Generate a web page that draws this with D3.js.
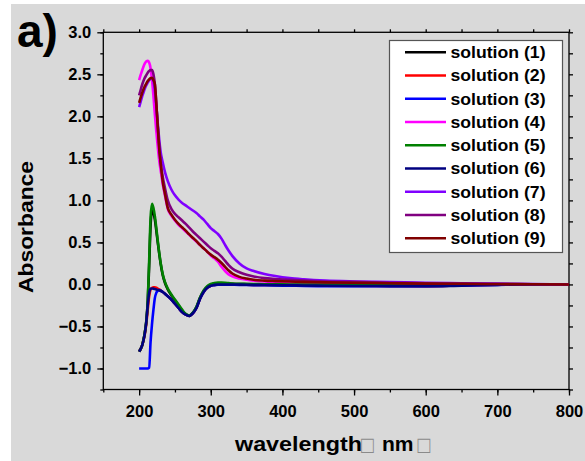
<!DOCTYPE html>
<html><head><meta charset="utf-8">
<script src="https://cdn.jsdelivr.net/npm/d3@7/dist/d3.min.js"></script>
<style>
html,body{margin:0;padding:0;background:#fff;}
svg{display:block;}
text{font-family:Arial,"Liberation Sans",sans-serif;font-weight:bold;}
</style></head>
<body>
<svg id="chart" width="585" height="461"></svg>
<script>
// ---- data ----
const wavelength = [200,202,204,206,208,210,212,214,216,218,220,222,224,226,228,230,233,236,240,245,250,255,260,265,270,275,280,285,290,295,300,305,310,315,320,325,330,340,350,360,375,390,410,430,460,500,550,600,650,700,750,800];

const solution1 = [-0.80,-0.77,-0.73,-0.66,-0.57,-0.44,-0.21,0.22,0.70,0.89,0.85,0.77,0.64,0.50,0.37,0.25,0.11,0.02,-0.06,-0.13,-0.19,-0.25,-0.31,-0.355,-0.375,-0.34,-0.27,-0.16,-0.08,-0.03,-0.005,0.01,0.015,0.015,0.012,0.01,0.008,0.005,0.004,0.003,0.002,0,0,0,0,-0.003,-0.005,-0.005,-0.003,0,0,0];
const solution2 = [-0.80,-0.77,-0.73,-0.67,-0.59,-0.47,-0.30,-0.14,-0.06,-0.04,-0.035,-0.035,-0.04,-0.05,-0.06,-0.07,-0.09,-0.11,-0.14,-0.18,-0.23,-0.28,-0.33,-0.36,-0.375,-0.345,-0.28,-0.17,-0.09,-0.04,-0.015,-0.005,0,0,0,0,0,-0.002,-0.004,-0.005,-0.005,-0.006,-0.008,-0.01,-0.012,-0.015,-0.018,-0.02,-0.012,-0.004,0,0];
const solution3 = [-1.00,-1.00,-1.00,-1.00,-1.00,-1.00,-1.00,-0.99,-0.68,-0.47,-0.30,-0.16,-0.10,-0.075,-0.068,-0.075,-0.09,-0.11,-0.14,-0.18,-0.23,-0.28,-0.33,-0.36,-0.375,-0.345,-0.28,-0.17,-0.09,-0.04,-0.015,-0.008,-0.004,-0.003,-0.003,-0.003,-0.004,-0.005,-0.006,-0.008,-0.01,-0.012,-0.015,-0.018,-0.02,-0.02,-0.02,-0.02,-0.012,-0.005,0,0];
const solution4 = [2.43,2.49,2.54,2.59,2.63,2.655,2.66,2.64,2.57,2.43,2.24,2.02,1.82,1.64,1.48,1.36,1.19,1.06,0.90,0.82,0.76,0.71,0.67,0.63,0.59,0.55,0.51,0.47,0.43,0.39,0.345,0.31,0.27,0.21,0.16,0.12,0.095,0.07,0.055,0.045,0.035,0.03,0.025,0.02,0.015,0.01,0.008,0.005,0.003,0.002,0.001,0];
const solution5 = [-0.80,-0.77,-0.73,-0.66,-0.57,-0.44,-0.20,0.28,0.80,0.96,0.91,0.81,0.67,0.52,0.38,0.26,0.12,0.03,-0.05,-0.12,-0.18,-0.24,-0.30,-0.35,-0.37,-0.335,-0.265,-0.155,-0.07,-0.02,0.005,0.018,0.022,0.022,0.02,0.016,0.012,0.008,0.006,0.004,0.003,0.002,0,0,0,-0.002,-0.004,-0.005,-0.003,0,0,0];
const solution6 = [-0.80,-0.77,-0.73,-0.67,-0.58,-0.45,-0.25,-0.10,-0.05,-0.048,-0.05,-0.055,-0.06,-0.065,-0.068,-0.075,-0.09,-0.11,-0.14,-0.18,-0.23,-0.28,-0.33,-0.36,-0.375,-0.34,-0.28,-0.17,-0.09,-0.04,-0.015,-0.005,0,0,0,0,0,-0.002,-0.004,-0.005,-0.006,-0.008,-0.01,-0.012,-0.015,-0.018,-0.02,-0.022,-0.014,-0.005,0,0];
const solution7 = [2.11,2.17,2.23,2.28,2.33,2.37,2.40,2.43,2.445,2.45,2.42,2.30,2.12,1.92,1.73,1.58,1.45,1.34,1.23,1.13,1.06,1.01,0.97,0.94,0.91,0.88,0.85,0.81,0.77,0.72,0.67,0.635,0.60,0.545,0.47,0.40,0.34,0.25,0.19,0.16,0.125,0.10,0.075,0.06,0.045,0.035,0.028,0.02,0.015,0.01,0.005,0];
const solution8 = [2.25,2.31,2.37,2.42,2.46,2.49,2.52,2.54,2.55,2.55,2.50,2.38,2.15,1.88,1.65,1.45,1.28,1.15,1.00,0.90,0.84,0.80,0.76,0.72,0.675,0.63,0.59,0.55,0.51,0.47,0.43,0.40,0.37,0.33,0.28,0.23,0.19,0.145,0.115,0.095,0.075,0.065,0.055,0.045,0.035,0.03,0.02,0.015,0.01,0.005,0.003,0];
const solution9 = [2.16,2.22,2.27,2.32,2.36,2.39,2.42,2.44,2.455,2.46,2.43,2.38,2.15,1.88,1.62,1.45,1.22,1.08,0.91,0.83,0.77,0.72,0.68,0.64,0.595,0.555,0.515,0.47,0.43,0.39,0.355,0.325,0.295,0.255,0.21,0.165,0.13,0.09,0.07,0.055,0.045,0.04,0.035,0.03,0.025,0.02,0.015,0.01,0.008,0.005,0.002,0];

const seriesNames = ["solution (1)","solution (2)","solution (3)","solution (4)","solution (5)","solution (6)","solution (7)","solution (8)","solution (9)"];
const seriesColors = ["#000000","#ff0000","#0000ff","#ff00ff","#008000","#000080","#8000ff","#800080","#800000"];
const seriesValues = [solution1,solution2,solution3,solution4,solution5,solution6,solution7,solution8,solution9];

const xTicks = [200,300,400,500,600,700,800];
const yTicks = [-1.0,-0.5,0.0,0.5,1.0,1.5,2.0,2.5,3.0];
const xLabel = "wavelength";
const xUnit = "nm";
const yLabel = "Absorbance";
const panelLabel = "a)";

// ---- layout ----
const svg = d3.select("#chart");
const L = 103.3, R = 569, T = 32.3, B = 389.5;

svg.append("rect").attr("x",11).attr("y",4).attr("width",574).attr("height",457).attr("fill","#d9d9d9");

const x = d3.scaleLinear().domain([150,800]).range([L,R]);
const y = d3.scaleLinear().domain([-1.25,3.0]).range([B,T]);

// frame
svg.append("rect").attr("x",L).attr("y",T).attr("width",R-L).attr("height",B-T)
  .attr("fill","none").attr("stroke","#000").attr("stroke-width",1.3);

const minorX = d3.range(150,801,50);
const minorY = d3.range(-1.25,3.001,0.25);

function styleAxis(g){
  g.select(".domain").remove();
  g.selectAll("line").attr("stroke","#000").attr("stroke-width",1.3);
  g.selectAll("text").attr("fill","#000");
}
// bottom
svg.append("g").attr("transform",`translate(0,${B})`)
  .call(d3.axisBottom(x).tickValues(minorX).tickSize(3).tickFormat(""))
  .call(styleAxis);
svg.append("g").attr("transform",`translate(0,${B})`)
  .call(d3.axisBottom(x).tickValues(xTicks).tickSize(6).tickPadding(10).tickFormat(d3.format("d")))
  .call(styleAxis)
  .selectAll("text").style("font-size","16.5px");
// left
svg.append("g").attr("transform",`translate(${L},0)`)
  .call(d3.axisLeft(y).tickValues(minorY).tickSize(3).tickFormat(""))
  .call(styleAxis);
svg.append("g").attr("transform",`translate(${L},0)`)
  .call(d3.axisLeft(y).tickValues(yTicks).tickSize(6).tickPadding(6).tickFormat(d3.format(".1f")))
  .call(styleAxis)
  .selectAll("text").style("font-size","16.5px");
// top
svg.append("g").attr("transform",`translate(0,${T})`)
  .call(d3.axisTop(x).tickValues(minorX).tickSize(3).tickFormat(""))
  .call(styleAxis);
// right
svg.append("g").attr("transform",`translate(${R},0)`)
  .call(d3.axisRight(y).tickValues(minorY).tickSize(4).tickFormat(""))
  .call(styleAxis);

// lines
svg.append("clipPath").attr("id","clip").append("rect")
  .attr("x",L).attr("y",T).attr("width",R-L).attr("height",B-T);
const line = d3.line().x((d,i)=>x(wavelength[i])).y(d=>y(d)).curve(d3.curveMonotoneX);
const gLines = svg.append("g").attr("clip-path","url(#clip)");
seriesValues.forEach((vals,i)=>{
  gLines.append("path").datum(vals).attr("d",line)
    .attr("fill","none").attr("stroke",seriesColors[i]).attr("stroke-width",2.6)
    .attr("stroke-linejoin","round");
});

// legend
const lg = svg.append("g");
lg.append("rect").attr("x",389.5).attr("y",40.5).attr("width",173).attr("height",212)
  .attr("fill","#fff").attr("stroke","#555").attr("stroke-width",1.2);
seriesNames.forEach((n,i)=>{
  const cy = 52.3 + i*23.25;
  lg.append("line").attr("x1",405).attr("x2",446).attr("y1",cy).attr("y2",cy)
    .attr("stroke",seriesColors[i]).attr("stroke-width",2.6);
  lg.append("text").attr("x",450.5).attr("y",cy+5.8).text(n)
    .attr("textLength",95).attr("lengthAdjust","spacingAndGlyphs")
    .style("font-size","16.5px").attr("fill","#000");
});

// axis labels
svg.append("text").attr("transform",`translate(33,227) rotate(-90)`)
  .attr("text-anchor","middle").style("font-size","20px")
  .attr("textLength",132).attr("lengthAdjust","spacingAndGlyphs").text(yLabel);

svg.append("text").attr("x",235).attr("y",451).style("font-size","20px")
  .attr("textLength",127).attr("lengthAdjust","spacingAndGlyphs").text(xLabel);
svg.append("text").attr("x",382).attr("y",451).style("font-size","20px")
  .attr("textLength",31.5).attr("lengthAdjust","spacingAndGlyphs").text(xUnit);
[361,417.5].forEach(bx=>{
  svg.append("text").attr("x",bx).attr("y",453).style("font-size","24px")
    .style("font-weight","normal").attr("fill","#8a8a8a")
    .attr("textLength",13).attr("lengthAdjust","spacingAndGlyphs").text("\u25A1");
});

svg.append("text").attr("x",17).attr("y",47).style("font-size","46px").text(panelLabel);
</script>
</body></html>
